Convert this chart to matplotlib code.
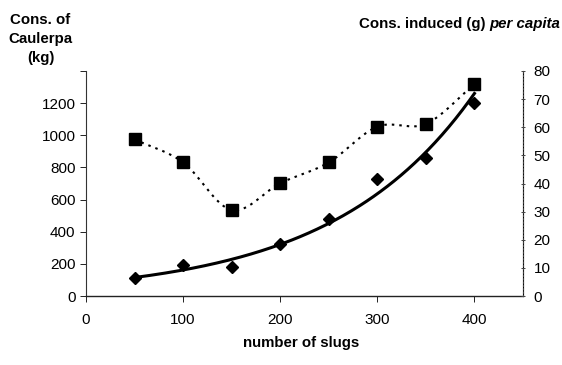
import numpy as np
import matplotlib
matplotlib.use("Agg")
import matplotlib.pyplot as plt

plt.rcParams['font.family'] = ['Liberation Sans', 'DejaVu Sans']

# number of slugs per trial
slugs = [50, 100, 150, 200, 250, 300, 350, 400]
# total consumption of Caulerpa (kg)
cons_total = [110, 193, 182, 322, 477, 726, 857, 1199]
# induced consumption per capita (g)
cons_per_capita = [55.7, 47.5, 30.6, 40.1, 47.5, 60.2, 61.2, 75.3]

left_ticks = [0, 200, 400, 600, 800, 1000, 1200]
right_ticks = [0, 10, 20, 30, 40, 50, 60, 70, 80]
x_ticks = [0, 100, 200, 300, 400]


def catmull_rom(xs, ys, n=30):
    """Smoothed curve through the points (spreadsheet-style smoothed line)."""
    xs = np.asarray(xs, float)
    ys = np.asarray(ys, float)
    px = np.concatenate([[2 * xs[0] - xs[1]], xs, [2 * xs[-1] - xs[-2]]])
    py = np.concatenate([[2 * ys[0] - ys[1]], ys, [2 * ys[-1] - ys[-2]]])
    outx, outy = [], []
    for i in range(1, len(px) - 2):
        t = np.linspace(0, 1, n, endpoint=False)
        for arr, out in ((px, outx), (py, outy)):
            p0, p1, p2, p3 = arr[i - 1], arr[i], arr[i + 1], arr[i + 2]
            out.extend(0.5 * ((2 * p1) + (-p0 + p2) * t
                              + (2 * p0 - 5 * p1 + 4 * p2 - p3) * t ** 2
                              + (-p0 + 3 * p1 - 3 * p2 + p3) * t ** 3))
    outx.append(xs[-1])
    outy.append(ys[-1])
    return np.array(outx), np.array(outy)


fig = plt.figure(figsize=(5.62, 3.65), dpi=100)
ax = fig.add_axes([0.153, 0.189, 0.7776, 0.6165])
ax2 = ax.twinx()

# exponential trendline of total consumption
b, ln_a = np.polyfit(slugs, np.log(cons_total), 1)
xf = np.linspace(slugs[0], slugs[-1], 200)
ax.plot(xf, np.exp(ln_a) * np.exp(b * xf), color='black', lw=2.2, zorder=3)
ax.plot(slugs, cons_total, linestyle='none', marker='D', color='black',
        markersize=6, zorder=4)

# per-capita series with smoothed dotted line
sx, sy = catmull_rom(slugs, cons_per_capita)
ax2.plot(sx, sy, color='black', lw=1.5, linestyle=(0, (1.2, 2.4)), zorder=3)
ax2.plot(slugs, cons_per_capita, linestyle='none', marker='s', color='black',
         markersize=8, zorder=4)

ax.set_xlim(0, 450)
ax.set_ylim(0, 1400)
ax2.set_ylim(0, 80)

ax.set_xticks(x_ticks)
ax.set_xticklabels([str(v) for v in x_ticks])
ax.set_yticks(left_ticks + [1400])
ax.set_yticklabels([str(v) for v in left_ticks] + [''])
ax2.set_yticks(right_ticks)
ax2.set_yticklabels([str(v) for v in right_ticks])

for a in (ax, ax2):
    a.spines['top'].set_visible(False)
ax.spines['left'].set_color('#333333')
ax.spines['left'].set_linewidth(0.8)
ax.spines['bottom'].set_color('#222222')
ax.spines['bottom'].set_linewidth(1.0)
ax2.spines['right'].set_linestyle((0, (1, 2)))
ax2.spines['right'].set_color('#444444')
ax2.spines['right'].set_linewidth(0.8)
ax2.spines['left'].set_visible(False)
ax2.spines['bottom'].set_visible(False)

ax.tick_params(axis='both', labelsize=11, length=4, width=0.7,
               colors='#222222', labelcolor='black', direction='out')
ax.tick_params(axis='x', pad=8)
ax2.tick_params(axis='y', labelsize=11, length=3, width=0.7,
                colors='#444444', labelcolor='black', direction='inout', pad=6)

fig.text(0.072, 0.965, 'Cons. of\nCaulerpa\n(kg)', ha='center', va='top',
         fontsize=10.8, fontweight='bold', linespacing=1.45)
fig.text(0.995, 0.935, 'Cons. induced (g) ', ha='right', va='center',
         fontsize=10.8, fontweight='bold')
t = fig.text(0.997, 0.935, 'per capita', ha='right', va='center',
             fontsize=10.8, fontweight='bold', style='italic')
fig.canvas.draw()
bb = t.get_window_extent()
fig.texts[-2].set_x((bb.x0) / fig.bbox.width)
fig.text(0.535, 0.06, 'number of slugs', ha='center', va='center',
         fontsize=10.8, fontweight='bold')

fig.savefig('out.png', dpi=100)
